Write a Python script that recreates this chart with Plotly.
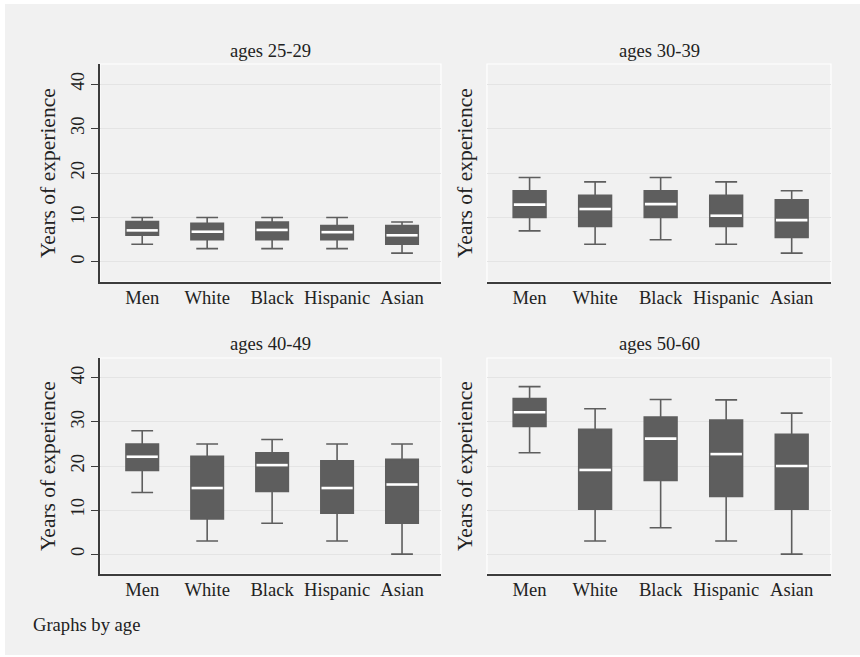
import plotly.graph_objects as go

categories = ["Men", "White", "Black", "Hispanic", "Asian"]
panel_titles = ["ages 25-29", "ages 30-39", "ages 40-49", "ages 50-60"]
y_ticks = [0, 10, 20, 30, 40]

# per panel: lower whisker, q1, median, q3, upper whisker
lo_2529 = [4, 3, 3, 3, 2]
q1_2529 = [6, 5, 5, 5, 4]
med_2529 = [7.1, 6.8, 7.2, 6.7, 6.0]
q3_2529 = [9.1, 8.7, 9.0, 8.2, 8.2]
hi_2529 = [10, 10, 10, 10, 9]

lo_3039 = [7, 4, 5, 4, 2]
q1_3039 = [10, 8, 10, 8, 5.5]
med_3039 = [12.9, 11.9, 13.0, 10.4, 9.4]
q3_3039 = [16, 15, 16, 15, 14]
hi_3039 = [19, 18, 19, 18, 16]

lo_4049 = [14, 3, 7, 3, 0]
q1_4049 = [19, 8, 14.2, 9.3, 7]
med_4049 = [22.1, 15.0, 20.2, 15.0, 15.8]
q3_4049 = [25, 22.2, 23, 21.2, 21.5]
hi_4049 = [28, 25, 26, 25, 25]

lo_5060 = [23, 3, 6, 3, 0]
q1_5060 = [29, 10.2, 16.7, 13.1, 10.2]
med_5060 = [32.2, 19.1, 26.2, 22.7, 20.0]
q3_5060 = [35.3, 28.3, 31.1, 30.4, 27.2]
hi_5060 = [38, 33, 35.1, 35, 32]

panels = [
    (lo_2529, q1_2529, med_2529, q3_2529, hi_2529),
    (lo_3039, q1_3039, med_3039, q3_3039, hi_3039),
    (lo_4049, q1_4049, med_4049, q3_4049, hi_4049),
    (lo_5060, q1_5060, med_5060, q3_5060, hi_5060),
]

W, H = 860, 657
BG = "#f1f1f1"
BOX = "#5e5e5e"
AX = "#3c3c3c"
TXT = "#222222"
FONT = "Liberation Serif"
FS = 18.6

# pixel layout of subplot areas (left, right, top, bottom)
cols = [(100, 441), (487, 831)]
rows = [(64, 282), (358, 574)]

fig = go.Figure()
BW = 0.5
pos = list(range(len(categories)))

for k, (lo, q1, med, q3, hi) in enumerate(panels):
    r, c = divmod(k, 2)
    xa = "x" if k == 0 else f"x{k+1}"
    ya = "y" if k == 0 else f"y{k+1}"
    fig.add_trace(go.Box(
        x=pos, q1=q1, median=med, q3=q3, lowerfence=lo, upperfence=hi,
        width=BW, whiskerwidth=0.67, fillcolor=BOX,
        line=dict(color=BOX, width=1.6), boxpoints=False,
        xaxis=xa, yaxis=ya, showlegend=False, hoverinfo="skip"))
    mx, my = [], []
    for i, m in zip(pos, med):
        mx += [i - BW / 2 + 0.01, i + BW / 2 - 0.01, None]
        my += [m, m, None]
    fig.add_trace(go.Scatter(
        x=mx, y=my, mode="lines", line=dict(color="white", width=2.6),
        xaxis=xa, yaxis=ya, showlegend=False, hoverinfo="skip"))

    x0, x1 = cols[c]
    yt, yb = rows[r]
    sfx = "" if k == 0 else str(k + 1)
    left = (c == 0)
    fig.layout["xaxis" + sfx] = dict(
        domain=[x0 / W, x1 / W], anchor=ya, range=[-0.65, 4.6],
        tickvals=pos, ticktext=categories, showgrid=False, zeroline=False,
        showline=True, linecolor=AX, linewidth=1.5, ticks="",
        tickfont=dict(family=FONT, size=FS, color=TXT), ticklabelstandoff=-2,
        fixedrange=True)
    fig.layout["yaxis" + sfx] = dict(
        domain=[1 - yb / H, 1 - yt / H], anchor=xa, range=[-4.5, 44.5],
        tickvals=y_ticks, showgrid=True, gridcolor="#e4e4e4", gridwidth=1,
        zeroline=False, showline=left, linecolor=AX, linewidth=1.5,
        ticks="outside" if left else "", ticklen=7, tickcolor=AX, tickwidth=1.3,
        showticklabels=left, tickangle=-90,
        tickfont=dict(family=FONT, size=FS, color=TXT), fixedrange=True)

    fig.add_shape(type="rect", xref=f"{xa} domain", yref=f"{ya} domain",
                  x0=0, x1=1, y0=0, y1=1, line=dict(color="white", width=1.2),
                  layer="below")
    fig.add_annotation(text=panel_titles[k], xref="paper", yref="paper",
                       x=(x0 + x1) / 2 / W, y=1 - (50 if r == 0 else 343) / H,
                       showarrow=False, xanchor="center", yanchor="middle",
                       font=dict(family=FONT, size=FS, color=TXT))
    fig.add_annotation(text="Years of experience", xref="paper", yref="paper",
                       x=(48 if c == 0 else 465) / W, y=1 - (yt + yb) / 2 / H,
                       textangle=-90, showarrow=False, xanchor="center",
                       yanchor="middle",
                       font=dict(family=FONT, size=21.5, color=TXT))

fig.add_annotation(text="Graphs by age", xref="paper", yref="paper",
                   x=31 / W, y=1 - 624 / H, showarrow=False, xanchor="left",
                   yanchor="middle", font=dict(family=FONT, size=FS, color=TXT))

# thin white frame around the graph region
for (a0, a1, b0, b1) in [(0, 5, 0, H), (0, W, 0, 4), (0, W, H - 2, H)]:
    fig.add_shape(type="rect", xref="paper", yref="paper",
                  x0=a0 / W, x1=a1 / W, y0=1 - b1 / H, y1=1 - b0 / H,
                  fillcolor="white", line=dict(width=0), layer="above")

fig.update_layout(width=W, height=H, autosize=False,
                  margin=dict(l=0, r=0, t=0, b=0),
                  paper_bgcolor=BG, plot_bgcolor=BG,
                  font=dict(family=FONT, color=TXT))

fig.write_html("out.html", config={"displayModeBar": False},
               post_script="document.body.style.margin='0';"
                           "document.body.style.overflow='hidden';")
